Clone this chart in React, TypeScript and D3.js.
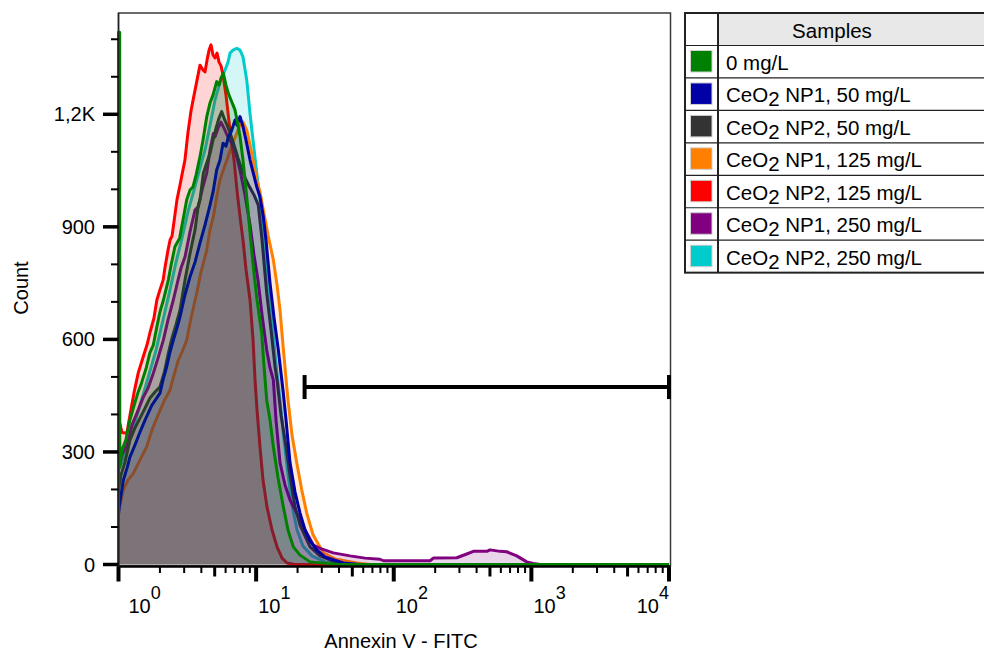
import React from 'react';
import * as d3 from 'd3';

// Annexin V - FITC histograms, [intensity, count]
const sampleNames = [
  '0 mg/L',
  'CeO2 NP1, 50 mg/L',
  'CeO2 NP2, 50 mg/L',
  'CeO2 NP1, 125 mg/L',
  'CeO2 NP2, 125 mg/L',
  'CeO2 NP1, 250 mg/L',
  'CeO2 NP2, 250 mg/L',
];
const sampleColors = ['#008000', '#0000a6', '#333333', '#ff8000', '#ff0000', '#800080', '#00cccc'];
// bottom -> top
const drawOrder = [6, 3, 4, 5, 2, 1, 0];

const ctrl0 = [
  [1.0, 0], [1.0, 1419], [1.02, 1419], [1.022, 262], [1.06, 305], [1.13, 332], [1.21, 385], [1.3, 425], [1.39, 460],
  [1.47, 484], [1.59, 524], [1.69, 564], [1.79, 585], [1.9, 634], [2.0, 673], [2.12, 705], [2.21, 732],
  [2.3, 758], [2.41, 798], [2.57, 847], [2.78, 870], [2.88, 900], [2.99, 932], [3.13, 972], [3.31, 998],
  [3.48, 1007], [3.66, 1038], [3.91, 1087], [4.11, 1131], [4.38, 1194], [4.62, 1230], [4.86, 1251],
  [5.17, 1287], [5.38, 1278], [5.56, 1297], [5.78, 1309], [6.04, 1278], [6.28, 1256], [6.57, 1238],
  [7.03, 1211], [7.39, 1171], [7.64, 1140], [8.03, 1078], [8.45, 998], [8.73, 945], [9.03, 884],
  [9.54, 794], [10.15, 705], [10.98, 617], [11.41, 529], [11.94, 438], [12.62, 385], [13.34, 314],
  [14.43, 231], [15.76, 154], [17.05, 92], [18.64, 47], [20.85, 25], [24.65, 7], [32.6, 3], [40.7, 0],
  [10000, 0],
];

const np1_50 = [
  [1.0, 132], [1.013, 154], [1.084, 225], [1.153, 257], [1.212, 287], [1.318, 319], [1.433, 353],
  [1.558, 385], [1.748, 425], [2.003, 457], [2.106, 492], [2.24, 527], [2.367, 566], [2.502, 598],
  [2.661, 630], [2.798, 660], [3.043, 719], [3.308, 767], [3.597, 806], [3.912, 857], [4.253, 905],
  [4.624, 958], [4.862, 993], [5.173, 1052], [5.466, 1078], [5.746, 1123], [6.043, 1115], [6.281, 1140],
  [6.571, 1152], [7.027, 1185], [7.264, 1171], [7.638, 1194], [8.031, 1167], [8.445, 1131], [9.031, 1078],
  [9.495, 1046], [10.1, 1007], [10.67, 980], [11.28, 927], [11.8, 865], [12.62, 750], [13.5, 657],
  [14.5, 572], [15.76, 457], [16.5, 385], [17.64, 271], [19.18, 193], [20.85, 137], [22.67, 92],
  [24.65, 63], [27.57, 39], [31.56, 20], [43.02, 4], [56.9, 0], [10000, 0],
];

const np2_50 = [
  [1.0, 199], [1.043, 239], [1.115, 273], [1.212, 332], [1.318, 364], [1.433, 390], [1.558, 417],
  [1.694, 444], [1.842, 460], [2.003, 474], [2.159, 514], [2.301, 563], [2.448, 604], [2.617, 639],
  [2.798, 678], [3.043, 758], [3.308, 829], [3.597, 892], [3.802, 958], [3.912, 972], [4.134, 1043],
  [4.324, 1065], [4.624, 1096], [4.862, 1131], [5.112, 1163], [5.375, 1190], [5.623, 1207], [5.843, 1190],
  [6.144, 1171], [6.462, 1150], [6.909, 1118], [7.386, 1083], [7.898, 1051], [8.445, 1025], [9.031, 1004],
  [9.654, 985], [10.37, 958], [11.04, 865], [11.94, 723], [12.83, 625], [13.72, 527], [14.19, 492],
  [15.17, 398], [16.5, 314], [17.64, 236], [19.18, 154], [20.85, 105], [24.65, 47], [29.14, 23],
  [37.44, 7], [48.13, 0], [10000, 0],
];

const np1_125 = [
  [1.0, 145], [1.025, 159], [1.084, 199], [1.172, 225], [1.281, 243], [1.433, 279], [1.603, 314],
  [1.748, 358], [1.937, 398], [2.159, 438], [2.367, 465], [2.531, 505], [2.72, 545], [2.894, 566],
  [3.131, 598], [3.365, 657], [3.701, 723], [3.978, 780], [4.375, 838], [4.624, 892], [4.887, 927],
  [5.198, 985], [5.466, 1025], [5.843, 1057], [6.249, 1087], [6.681, 1118], [7.144, 1145], [7.638, 1171],
  [8.031, 1179], [8.55, 1158], [9.031, 1118], [9.495, 1078], [10.1, 1025], [10.67, 993], [11.28, 945],
  [12.2, 878], [13.34, 812], [14.19, 745], [14.92, 678], [15.68, 585], [16.69, 474], [17.05, 438],
  [18.23, 345], [19.73, 271], [21.45, 199], [23.32, 137], [25.92, 79], [30.79, 31], [37.44, 15],
  [53.85, 4], [67.26, 0], [10000, 0],
];

const np2_125 = [
  [1.0, 390], [1.06, 352], [1.15, 350], [1.23, 412], [1.3, 460], [1.39, 510], [1.51, 553], [1.61, 585],
  [1.69, 617], [1.81, 657], [1.9, 705], [2.0, 732], [2.11, 758], [2.18, 793], [2.29, 838], [2.37, 865],
  [2.45, 876], [2.57, 932], [2.66, 972], [2.8, 1012], [2.89, 1038], [3.04, 1078], [3.2, 1153], [3.37, 1211],
  [3.54, 1251], [3.72, 1291], [3.91, 1331], [4.11, 1318], [4.25, 1313], [4.4, 1345], [4.55, 1371],
  [4.7, 1385], [4.86, 1358], [5.03, 1350], [5.2, 1363], [5.38, 1339], [5.56, 1329], [5.75, 1305],
  [6.04, 1251], [6.46, 1158], [6.91, 1078], [7.26, 998], [7.39, 972], [7.77, 905], [8.03, 865],
  [8.45, 785], [9.03, 705], [9.5, 598], [9.82, 492], [10.15, 412], [10.67, 313], [11.22, 225],
  [12.0, 153], [13.05, 92], [14.19, 47], [15.43, 17], [16.77, 4], [19.18, 0], [10000, 0],
];

const np1_250 = [
  [1.0, 252], [1.06, 292], [1.153, 319], [1.254, 372], [1.363, 404], [1.507, 444], [1.638, 470],
  [1.79, 510], [1.937, 550], [2.117, 598], [2.289, 652], [2.502, 705], [2.706, 758], [2.846, 790],
  [3.043, 820], [3.308, 887], [3.597, 945], [3.802, 954], [4.045, 998], [4.375, 1043], [4.624, 1105],
  [4.887, 1149], [5.027, 1140], [5.286, 1163], [5.558, 1179], [5.843, 1163], [6.144, 1145], [6.571, 1126],
  [7.027, 1105], [7.638, 1051], [8.305, 985], [9.031, 905], [9.654, 825], [10.32, 758], [11.04, 665],
  [11.94, 572], [12.62, 524], [13.34, 492], [13.95, 385], [14.92, 271], [16.22, 212], [17.64, 172],
  [19.73, 137], [22.67, 92], [26.04, 52], [29.14, 43], [36.39, 31], [48.13, 23], [61.86, 17], [79.53, 14],
  [84.03, 10], [183.6, 10], [194.0, 17], [287, 18], [339.3, 28], [378.9, 35], [474.2, 35], [501.1, 39],
  [592.4, 35], [662.5, 34], [783.2, 23], [925.9, 7], [1034, 3], [1157, 0], [10000, 0],
];

const np2_250 = [
  [1.0, 252], [1.115, 292], [1.254, 353], [1.433, 425], [1.638, 497], [1.873, 571], [2.106, 652],
  [2.367, 732], [2.617, 806], [2.894, 870], [3.2, 941], [3.538, 998], [3.912, 1057], [4.253, 1105],
  [4.624, 1171], [5.027, 1238], [5.466, 1286], [5.943, 1318], [6.249, 1339], [6.462, 1363], [6.794, 1371],
  [7.228, 1376], [7.638, 1371], [8.031, 1353], [8.55, 1291], [9.031, 1202], [9.495, 1131], [10.1, 1044],
  [10.67, 972], [11.41, 865], [12.2, 758], [13.05, 652], [13.84, 545], [14.92, 438], [15.94, 332],
  [17.05, 239], [18.23, 159], [19.83, 92], [21.92, 49], [25.49, 23], [31.68, 7], [44.27, 0], [10000, 0],
];

const seriesData = [ctrl0, np1_50, np2_50, np1_125, np2_125, np1_250, np2_250];

const yTicks = [0, 300, 600, 900, 1200];
const yTickLabels = ['0', '300', '600', '900', '1,2K'];
const decades = [1, 10, 100, 1000, 10000];
const gate = { from: 22.5, to: 10000, count: 473 };

const FONT = 'Arial, "Liberation Sans", sans-serif';

function SampleLabel({ text, x, y }: { text: string; x: number; y: number }) {
  if (!text.startsWith('CeO2')) {
    return <text x={x} y={y}>{text}</text>;
  }
  return (
    <text x={x} y={y}>
      CeO<tspan dy={4}>2</tspan>
      <tspan dy={-4}>{text.slice(4)}</tspan>
    </text>
  );
}

export default function App() {
  const W = 984;
  const H = 658;
  const x = d3.scaleLog().domain([1, 10000]).range([118.5, 669]);
  const y = d3.scaleLinear().domain([0, 1470]).range([564.5, 13]);

  const area = d3
    .area<number[]>()
    .x(d => x(d[0]))
    .y0(y(0))
    .y1(d => y(d[1]));
  const line = d3
    .line<number[]>()
    .x(d => x(d[0]))
    .y(d => y(d[1]));

  const minorY = d3.range(100, 1401, 100).filter(v => v % 300 !== 0);
  const minorX = decades.slice(0, -1).flatMap(d => d3.range(2, 10).map(m => ({ v: m * d, m })));

  const axisY = 566.5;
  const legX = 685;
  const legCol = 718;
  const legTop = 13;
  const headH = 32.5;
  const rowH = 32.45;

  return (
    <svg
      width={W}
      height={H}
      style={{ position: 'absolute', left: 0, top: 0, background: '#fff' }}
      fontFamily={FONT}
    >
      {/* plot frame */}
      <rect x={118.5} y={13} width={552} height={553} fill="none" stroke="#3a3a3a" strokeWidth={1.5} />

      {/* histograms */}
      {drawOrder.map(i => (
        <g key={i}>
          <path d={area(seriesData[i]) || ''} fill={sampleColors[i]} fillOpacity={0.17} />
          <path
            d={line(seriesData[i]) || ''}
            fill="none"
            stroke={sampleColors[i]}
            strokeWidth={3}
            strokeLinejoin="round"
          />
        </g>
      ))}

      {/* gate marker */}
      <g stroke="#000" strokeWidth={4}>
        <line x1={x(gate.from)} x2={x(gate.to)} y1={y(gate.count)} y2={y(gate.count)} />
        <line x1={x(gate.from)} x2={x(gate.from)} y1={y(gate.count) - 12} y2={y(gate.count) + 12} />
        <line x1={x(gate.to)} x2={x(gate.to)} y1={y(gate.count) - 12} y2={y(gate.count) + 12} />
      </g>

      {/* x axis */}
      <line x1={117} x2={670.5} y1={axisY} y2={axisY} stroke="#000" strokeWidth={2.5} />
      {minorX.map(t => (
        <line
          key={t.v}
          x1={x(t.v)}
          x2={x(t.v)}
          y1={axisY}
          y2={axisY + (t.m === 5 ? 10 : 6.5)}
          stroke="#000"
          strokeWidth={t.m === 5 ? 3 : 2}
        />
      ))}
      {decades.map(d => (
        <line key={d} x1={x(d)} x2={x(d)} y1={axisY} y2={axisY + 15} stroke="#000" strokeWidth={4} />
      ))}
      {decades.map((d, i) => {
        const last = i === decades.length - 1;
        const px = x(d);
        return (
          <text
            key={d}
            x={last ? px : px + (i === 0 ? 10 : 2)}
            y={613}
            fontSize={20}
            textAnchor={last ? 'end' : 'start'}
            fill="#000"
          >
            10
            <tspan dy={-14} fontSize={18}>
              {Math.round(Math.log10(d))}
            </tspan>
          </text>
        );
      })}
      <text x={401} y={648} fontSize={20} textAnchor="middle" fill="#000">
        Annexin V - FITC
      </text>

      {/* y axis */}
      <line x1={118.5} x2={118.5} y1={13} y2={567} stroke="#222" strokeWidth={1.5} />
      {minorY.map(v => (
        <line key={v} x1={111} x2={118.5} y1={y(v)} y2={y(v)} stroke="#000" strokeWidth={2} />
      ))}
      {yTicks.map(v => (
        <line key={v} x1={103} x2={118.5} y1={y(v)} y2={y(v)} stroke="#000" strokeWidth={3.5} />
      ))}
      {yTicks.map((v, i) => (
        <text key={v} x={95} y={y(v) + 7} fontSize={20} textAnchor="end" fill="#000">
          {yTickLabels[i]}
        </text>
      ))}
      <text transform="translate(28.3,288) rotate(-90)" fontSize={20} textAnchor="middle" fill="#000">
        Count
      </text>

      {/* legend table */}
      <g>
        <rect x={legCol} y={legTop} width={W - legCol + 10} height={headH} fill="#e8e8e8" />
        {sampleNames.map((name, i) => {
          const top = legTop + headH + i * rowH;
          return (
            <g key={name}>
              <line x1={legX} x2={W + 5} y1={top} y2={top} stroke="#222" strokeWidth={1.2} />
              <rect
                x={690.5}
                y={top + 5}
                width={21.5}
                height={21.5}
                fill={sampleColors[i]}
                stroke="#d0d0d0"
                strokeWidth={1}
              />
              <g fontSize={20.5} fill="#000">
                <SampleLabel text={name} x={726} y={top + 24.5} />
              </g>
            </g>
          );
        })}
        <text x={832} y={legTop + 25} fontSize={20.5} textAnchor="middle" fill="#000">
          Samples
        </text>
        <line x1={legCol} x2={legCol} y1={legTop} y2={legTop + headH + 7 * rowH} stroke="#222" strokeWidth={2} />
        <rect
          x={legX}
          y={legTop}
          width={W - legX + 10}
          height={headH + 7 * rowH}
          fill="none"
          stroke="#222"
          strokeWidth={2}
        />
      </g>
    </svg>
  );
}
